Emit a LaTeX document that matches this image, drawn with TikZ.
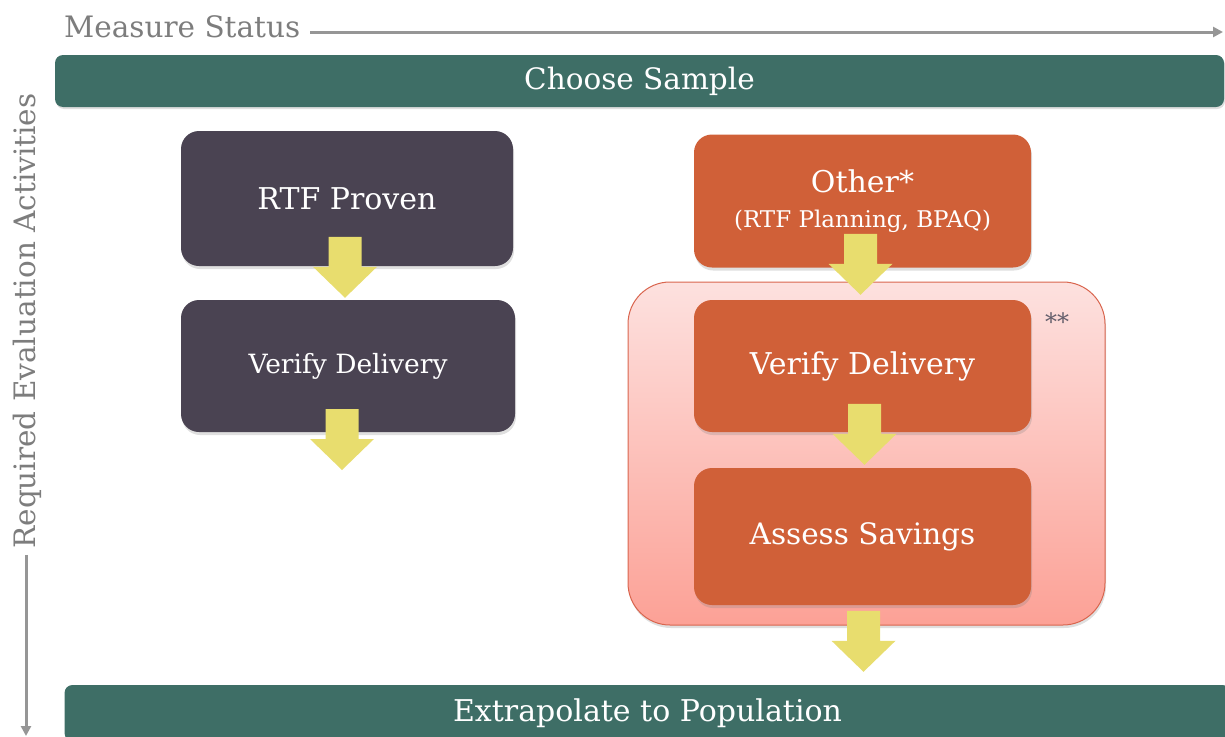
\documentclass[tikz,border=0pt]{standalone}
\usepackage{fontspec}
\setmainfont{DejaVu Serif}
\usetikzlibrary{calc,shadows,arrows.meta}
\definecolor{teal}{RGB}{62,110,102}
\definecolor{darkbox}{RGB}{74,67,82}
\definecolor{orangebox}{RGB}{208,96,56}
\definecolor{arrowyellow}{RGB}{232,221,110}
\definecolor{pinktop}{RGB}{253,225,223}
\definecolor{pinkbot}{RGB}{252,161,150}
\definecolor{pinkborder}{RGB}{217,101,78}
\definecolor{axisgray}{RGB}{150,150,150}
\definecolor{labelgray}{RGB}{125,125,125}
\tikzset{
  bar/.style={fill=teal, rounded corners=8pt, text=white, inner sep=0pt,
    drop shadow={shadow xshift=1pt, shadow yshift=-2pt, opacity=0.25}},
  boxbase/.style={rounded corners=18pt, text=white, inner sep=0pt, align=center,
    drop shadow={shadow xshift=1pt, shadow yshift=-3pt, opacity=0.25}},
  darkstep/.style={boxbase, fill=darkbox},
  orangestep/.style={boxbase, fill=orangebox},
  container/.style={rounded corners=42pt, draw=pinkborder, line width=1pt,
    top color=pinktop, bottom color=pinkbot, inner sep=0pt,
    drop shadow={shadow xshift=1pt, shadow yshift=-3pt, opacity=0.25}},
  axis/.style={draw=axisgray, line width=3pt, -{Triangle[length=10pt,width=10pt]}},
  axislabel/.style={text=labelgray, inner sep=0pt, font=\fontsize{29.5}{32}\selectfont},
  blockarrow/.style={fill=arrowyellow}
}
\newcommand\yarrow[1]{%
  \fill[blockarrow] ($(#1)+(-16.5,-61)$) -- ++(33,0) -- ++(0,30) -- ++(15.5,0)
    -- (#1) -- ++(-32,-31) -- ++(15.5,0) -- cycle;}
\begin{document}
\begin{tikzpicture}[x=1pt,y=-1pt]
\useasboundingbox (0,0) rectangle (1225,736);
\clip (0,0) rectangle (1225,736);

% axes
\node[axislabel, anchor=west] (ms) at (64,27) {Measure Status};
\coordinate (msend) at (1223,32);
\draw[axis] ($(ms.east)+(10,5)$) -- (msend);
\node[axislabel, rotate=90] (req) at (27,321) {Required Evaluation Activities};
\coordinate (reqend) at (26,736);
\draw[axis] ($(req.west)+(-1,6)$) -- (reqend);

% bars
\node[bar, minimum width=1169pt, minimum height=52pt,
  font=\fontsize{29.5}{32}\selectfont] (choose) at (639.5,81) {Choose Sample};
\node[bar, minimum width=1166pt, minimum height=56pt,
  font=\fontsize{30}{32}\selectfont] (extrap) at (647.5,713) {Extrapolate to Population};

% left column
\node[darkstep, minimum width=332pt, minimum height=135pt,
  font=\fontsize{30}{32}\selectfont] (rtf) at (347,198.5) {RTF Proven};
\node[darkstep, minimum width=334pt, minimum height=132pt,
  font=\fontsize{26.5}{30}\selectfont] (vdl) at (348,366) {Verify Delivery};

% right column
\node[container, minimum width=477pt, minimum height=343pt] (group) at (866.5,453.5) {};
\node[orangestep, minimum width=337pt, minimum height=133pt,
  font=\fontsize{30}{35}\selectfont] (other) at (862.5,201)
  {Other*\\{\fontsize{23}{35}\selectfont (RTF Planning, BPAQ)}};
\node[orangestep, minimum width=337pt, minimum height=132pt,
  font=\fontsize{30}{32}\selectfont] (vdr) at (862.5,366) {Verify Delivery};
\node[orangestep, minimum width=337pt, minimum height=137pt,
  font=\fontsize{29.5}{32}\selectfont] (assess) at (862.5,536.5) {Assess Savings};
\node[text=darkbox!85, font=\fontsize{24}{24}\selectfont, inner sep=0pt] (stars) at (1057,322) {**};

% block arrows
\coordinate (t1) at ($(vdl.north)+(-3,-2)$);
\yarrow{t1}
\coordinate (t2) at (342,470);
\yarrow{t2}
\coordinate (t3) at ($(vdr.north)+(-2,-5)$);
\yarrow{t3}
\coordinate (t4) at ($(assess.north)+(2,-3)$);
\yarrow{t4}
\coordinate (t5) at ($(extrap.north)+(216,-13)$);
\yarrow{t5}
\end{tikzpicture}
\end{document}
